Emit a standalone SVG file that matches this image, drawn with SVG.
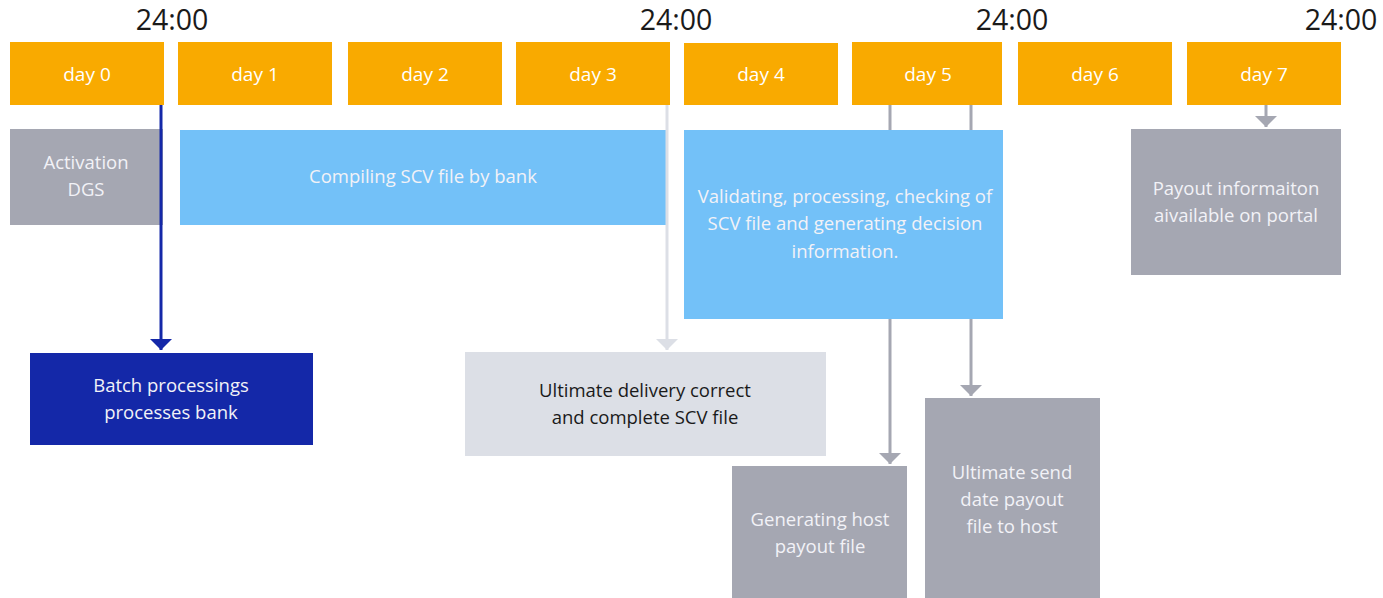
<svg xmlns="http://www.w3.org/2000/svg" width="1383" height="598" viewBox="0 0 1383 598">
<style>
text{font-family:"Open Sans","Noto Sans","Liberation Sans",sans-serif;text-anchor:middle}
.time{font-size:28.5px;fill:#1a1a1a}
.day rect{fill:#f9aa00}
.day text{font-size:19px;fill:#ffffff}
.t{font-size:18.5px;fill:#f2f2f7}
.dk{font-size:18.5px;fill:#1a1a1a}
.gray{fill:#a5a7b2}
.blue{fill:#73c1f8}
.navy{fill:#1428a8}
.light{fill:#dcdfe6}
.c{fill:none;stroke-width:3}
</style>
<defs>
<marker id="aNavy" markerUnits="userSpaceOnUse" markerWidth="22" markerHeight="12" refX="11" refY="11" viewBox="0 0 22 12"><path d="M0 0H22L11 11Z" fill="#1428a8"/></marker>
<marker id="aLight" markerUnits="userSpaceOnUse" markerWidth="22" markerHeight="12" refX="11" refY="11" viewBox="0 0 22 12"><path d="M0 0H22L11 11Z" fill="#dcdfe6"/></marker>
<marker id="aGray" markerUnits="userSpaceOnUse" markerWidth="22" markerHeight="12" refX="11" refY="11" viewBox="0 0 22 12"><path d="M0 0H22L11 11Z" fill="#a5a7b2"/></marker>
</defs>
<g id="times">
<text class="time" x="172" y="30">24:00</text>
<text class="time" x="676" y="30">24:00</text>
<text class="time" x="1012" y="30">24:00</text>
<text class="time" x="1341" y="30">24:00</text>
</g>
<g id="day0" class="day"><rect x="10" y="42" width="154" height="63"/><text x="87" y="81">day 0</text></g>
<g id="day1" class="day"><rect x="178" y="42" width="154" height="63"/><text x="255" y="81">day 1</text></g>
<g id="day2" class="day"><rect x="348" y="42" width="154" height="63"/><text x="425" y="81">day 2</text></g>
<g id="day3" class="day"><rect x="516" y="42" width="154" height="63"/><text x="593" y="81">day 3</text></g>
<g id="day4" class="day"><rect x="684" y="43" width="154" height="62"/><text x="761" y="81">day 4</text></g>
<g id="day5" class="day"><rect x="852" y="42" width="150" height="63"/><text x="928" y="81">day 5</text></g>
<g id="day6" class="day"><rect x="1018" y="42" width="154" height="63"/><text x="1095" y="81">day 6</text></g>
<g id="day7" class="day"><rect x="1187" y="42" width="154" height="63"/><text x="1264" y="81">day 7</text></g>
<g id="activation"><rect class="gray" x="10" y="129" width="153" height="96"/><text class="t" x="86" y="169">Activation</text><text class="t" x="86" y="196">DGS</text></g>
<g id="compiling"><rect class="blue" x="180" y="130" width="488" height="95"/><text class="t" x="423" y="183">Compiling SCV file by bank</text></g>
<g id="validating"><rect class="blue" x="684" y="130" width="319" height="189"/><text class="t" x="845" y="203">Validating, processing, checking of</text><text class="t" x="845" y="230">SCV file and generating decision</text><text class="t" x="845" y="258">information.</text></g>
<g id="payout"><rect class="gray" x="1131" y="129" width="210" height="146"/><text class="t" x="1236" y="195">Payout informaiton</text><text class="t" x="1236" y="222">aivailable on portal</text></g>
<g id="batch"><rect class="navy" x="30" y="353" width="283" height="92"/><text class="t" x="171" y="392">Batch processings</text><text class="t" x="171" y="419">processes bank</text></g>
<g id="delivery"><rect class="light" x="465" y="352" width="361" height="104"/><text class="dk" x="645" y="397">Ultimate delivery correct</text><text class="dk" x="645" y="424">and complete SCV file</text></g>
<g id="generating"><rect class="gray" x="732" y="466" width="175" height="132"/><text class="t" x="820" y="526">Generating host</text><text class="t" x="820" y="553">payout file</text></g>
<g id="send"><rect class="gray" x="925" y="398" width="175" height="200"/><text class="t" x="1012" y="479">Ultimate send</text><text class="t" x="1012" y="506">date payout</text><text class="t" x="1012" y="533">file to host</text></g>
<g id="connectors">
<path class="c" d="M161 105V350" stroke="#1428a8" marker-end="url(#aNavy)"/>
<path class="c" d="M667 105V350" stroke="#dcdfe6" marker-end="url(#aLight)"/>
<path class="c" d="M890 105V130M890 319V464" stroke="#a5a7b2" marker-end="url(#aGray)"/>
<path class="c" d="M971 105V130M971 319V396" stroke="#a5a7b2" marker-end="url(#aGray)"/>
<path class="c" d="M1266 105V127" stroke="#a5a7b2" marker-end="url(#aGray)"/>
</g>
</svg>
